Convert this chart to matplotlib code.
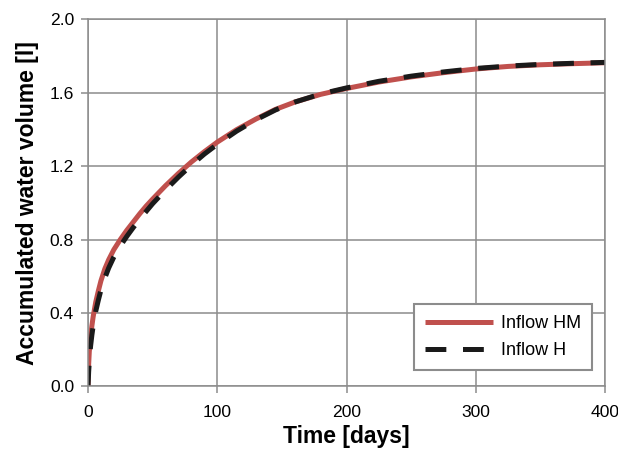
import matplotlib
matplotlib.use("Agg")
import matplotlib.pyplot as plt

plt.rcParams.update({
    "font.family": ["Liberation Sans", "DejaVu Sans"],
    "lines.scale_dashes": False,
})

# values
days = [0, 0.5, 1, 2, 3, 4, 6, 8, 10, 13, 16, 20, 25, 30, 35, 40, 45, 50, 60, 70,
        80, 90, 100, 115, 130, 145, 160, 180, 200, 225, 250, 275, 300, 325, 350, 375, 400]
inflow_hm = [0, 0.12, 0.19, 0.27, 0.33, 0.38, 0.46, 0.52, 0.575, 0.64, 0.69, 0.745, 0.80, 0.85,
             0.895, 0.94, 0.982, 1.02, 1.093, 1.16, 1.222, 1.278, 1.33, 1.398, 1.456, 1.508, 1.548,
             1.59, 1.622, 1.657, 1.685, 1.708, 1.728, 1.742, 1.751, 1.757, 1.762]
inflow_h = [0, 0.08, 0.14, 0.22, 0.28, 0.33, 0.41, 0.47, 0.525, 0.59, 0.645, 0.705, 0.765, 0.817,
            0.865, 0.91, 0.953, 0.995, 1.07, 1.14, 1.205, 1.265, 1.318, 1.39, 1.452, 1.505, 1.548,
            1.592, 1.625, 1.661, 1.689, 1.712, 1.731, 1.744, 1.753, 1.759, 1.764]

x_ticks = [0, 100, 200, 300, 400]
y_ticks = [0.0, 0.4, 0.8, 1.2, 1.6, 2.0]

GRID = "#8c8c8c"
RED = "#c0504d"

fig = plt.figure(figsize=(6.18, 4.54), dpi=100)
ax = fig.add_axes([0.1424, 0.1487, 0.8366, 0.8094])

ax.plot(days, inflow_hm, color=RED, lw=3.6, label="Inflow HM", solid_capstyle="butt")
ax.plot(days, inflow_h, color="#1a1a1a", lw=3.6, dashes=(15, 12), label="Inflow H",
        dash_capstyle="butt")

ax.set_xlim(0, 400)
ax.set_ylim(0, 2.0)
ax.set_xticks(x_ticks)
ax.set_yticks(y_ticks)
ax.set_yticklabels([f"{v:.1f}" for v in y_ticks])
ax.grid(True, color=GRID, lw=1.1)
ax.set_axisbelow(True)
for s in ax.spines.values():
    s.set_color(GRID)
    s.set_linewidth(1.1)
ax.tick_params(axis="both", colors=GRID, labelcolor="black", labelsize=12.6, length=5, width=1.1)
ax.tick_params(axis="x", pad=8)
ax.tick_params(axis="y", pad=5)

ax.set_xlabel("Time [days]", fontsize=16.5, fontweight="bold", labelpad=4)
ax.set_ylabel("Accumulated water volume [l]", fontsize=16.5, fontweight="bold", labelpad=8)

leg = ax.legend(loc="lower right", bbox_to_anchor=(0.975, 0.045), fontsize=13,
                fancybox=False, framealpha=1, edgecolor=GRID, handlelength=3.77,
                handletextpad=0.45, labelspacing=0.55, borderpad=0.6, borderaxespad=0)
leg.get_frame().set_linewidth(1.5)

fig.savefig("out.png", dpi=100)
